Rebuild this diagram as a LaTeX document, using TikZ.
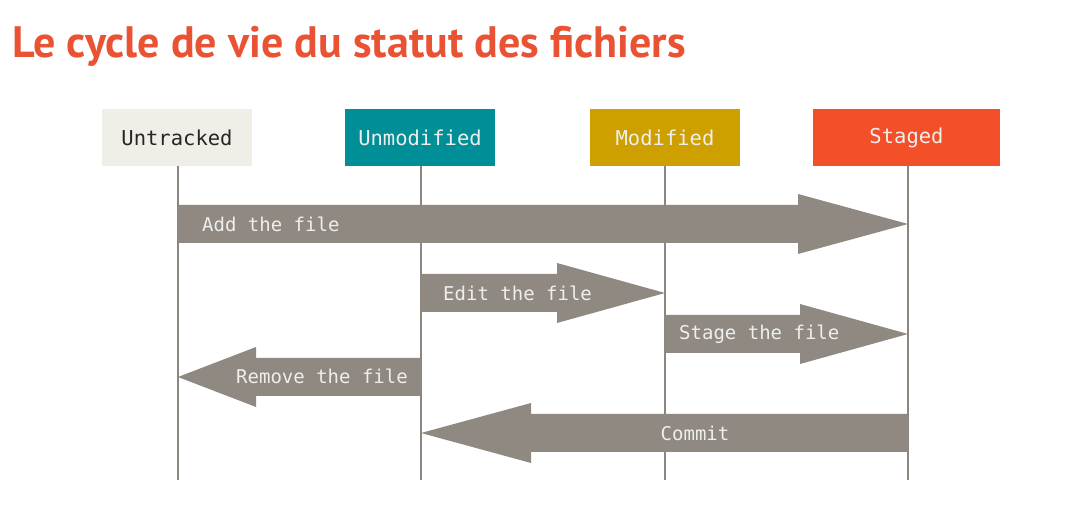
\documentclass[tikz,border=0pt]{standalone}
\usepackage{fontspec}
\usetikzlibrary{calc}
\newfontfamily\titlefont{PT Sans}
\setmonofont{DejaVu Sans Mono}
\definecolor{titlecol}{RGB}{234,82,52}
\definecolor{untrk}{RGB}{239,238,231}
\definecolor{unmod}{RGB}{0,143,151}
\definecolor{modif}{RGB}{205,160,0}
\definecolor{stagd}{RGB}{243,79,41}
\definecolor{arrowgray}{RGB}{143,137,129}
\definecolor{linegray}{RGB}{140,134,127}
\definecolor{lbl}{RGB}{238,238,236}
\newcommand\fatarrow[4]{% #1 start coordinate, #2 tip coordinate, #3 head length (signed), #4 label
  \fill[arrowgray] let \p1=(#1), \p2=(#2) in
    (\x1,\y1+19pt) -- (\x2-#3,\y1+19pt) -- (\x2-#3,\y1+30pt) -- (\x2,\y2)
    -- (\x2-#3,\y1-30pt) -- (\x2-#3,\y1-19pt) -- (\x1,\y1-19pt) -- cycle;
}
\begin{document}
\begin{tikzpicture}[x=1pt,y=-1pt,
  state/.style={minimum height=57pt, inner sep=0pt, font=\ttfamily\fontsize{20.5}{24}\selectfont},
  lifeline/.style={draw=linegray, line width=2pt},
  lab/.style={font=\ttfamily\fontsize{19}{22}\selectfont, text=lbl, inner sep=0pt}]
\useasboundingbox (0,0) rectangle (1080,521);
\node[anchor=base west, inner sep=0pt, text=titlecol, font=\titlefont\bfseries\fontsize{44}{50}\selectfont] (title) at (12,58) {Le cycle de vie du statut des fichiers};
\node[state, fill=untrk, text=black!85, minimum width=150pt] (U) at (177,137.5) {Untracked};
\node[state, fill=unmod, text=lbl, minimum width=150pt] (N) at (420,137.5) {Unmodified};
\node[state, fill=modif, text=lbl, minimum width=150pt] (M) at (665,137.5) {Modified};
\node[state, fill=stagd, text=lbl, minimum width=187pt] (S) at (906.5,137.5) {Staged};
\coordinate (Ue) at (178,480);
\coordinate (Ne) at (421,480);
\coordinate (Me) at (665,480);
\coordinate (Se) at (908,480);
\draw[lifeline] (U.south -| Ue) -- (Ue);
\draw[lifeline] (N.south -| Ne) -- (Ne);
\draw[lifeline] (M.south -| Me) -- (Me);
\draw[lifeline] (S.south -| Se) -- (Se);
% arrows
\coordinate (a1) at (178,224); \coordinate (a2) at (908,224);
\fatarrow{a1}{a2}{110pt}{}
\node[lab, anchor=west] (addl) at (202,224) {Add the file};
\coordinate (e1) at (421,293); \coordinate (e2) at (665,293);
\fatarrow{e1}{e2}{108pt}{}
\node[lab, anchor=west] (editl) at (443,293) {Edit the file};
\coordinate (s1) at (665,334); \coordinate (s2) at (908,334);
\fatarrow{s1}{s2}{108pt}{}
\node[lab, anchor=west] (stagel) at (679,334) {Stage the file};
\coordinate (r1) at (421,377); \coordinate (r2) at (178,377);
\fatarrow{r1}{r2}{-78pt}{}
\node[lab, anchor=west] (reml) at (236,376) {Remove the file};
\coordinate (c1) at (908,433); \coordinate (c2) at (421,433);
\fatarrow{c1}{c2}{-110pt}{}
\node[lab] (comml) at (695,433) {Commit};
\end{tikzpicture}
\end{document}
